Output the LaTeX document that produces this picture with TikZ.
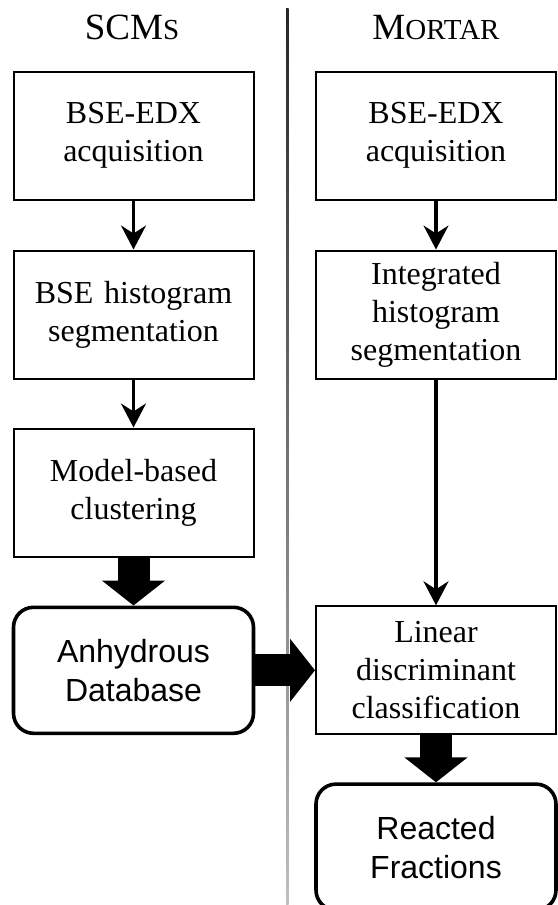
\documentclass[tikz,border=0pt]{standalone}
\usepackage{fontspec}
\setmainfont{Liberation Serif}
\newfontfamily\arialfont{Liberation Sans}
\usetikzlibrary{arrows.meta,positioning}
\tikzset{
  stepbox/.style={draw,line width=1pt,minimum width=120pt,minimum height=64pt,text width=118pt,align=center,inner sep=0pt,font=\fontsize{16}{19}\selectfont},
  endbox/.style={draw,line width=1.8pt,rounded corners=10pt,minimum width=120pt,minimum height=63pt,text width=118pt,align=center,inner sep=0pt,font=\arialfont\fontsize{16}{19.5}\selectfont},
  thinarrow/.style={line width=1.6pt,-{Stealth[length=12pt,width=12.5pt,inset=4pt]}},
  fatarrow/.style={line width=16pt,-{Triangle[length=12.5pt,width=31pt]}},
  colhead/.style={font=\fontsize{18.5}{22}\selectfont,anchor=base}
}

\begin{document}
\begin{tikzpicture}[x=0.5pt,y=-0.5pt]
\useasboundingbox (0,0) rectangle (557,905);
% divider between the two columns
\shade[top color=black!85,bottom color=black!25] (286,8) rectangle (288.5,905);

\node[colhead] (scmhead) at (132,39) {SCM{\fontsize{14.5}{17}\selectfont S}};
\node[colhead] (morhead) at (436,39) {M{\fontsize{14.5}{17}\selectfont ORTAR}};

% SCMs column
\node[stepbox] (scmacq) at (133.5,135.5) {BSE-EDX\\acquisition};
\node[stepbox,below=24.5pt of scmacq] (scmseg) {BSE histogram\\segmentation};
\node[stepbox,below=24pt of scmseg] (scmclu) {Model-based\\clustering};
\node[endbox,below=24pt of scmclu] (anhdb) {Anhydrous\\Database};

% Mortar column
\node[stepbox] (moracq) at (436,135.5) {BSE-EDX\\acquisition};
\node[stepbox,below=24.5pt of moracq] (morseg) {Integrated\\histogram\\segmentation};
\node[stepbox] (morlda) at (moracq |- anhdb) {Linear\\discriminant\\classification};
\node[endbox,below=23.5pt of morlda] (reacted) {Reacted\\Fractions};

\draw[thinarrow] (scmacq) -- (scmseg);
\draw[thinarrow] (scmseg) -- (scmclu);
\draw[fatarrow] (scmclu) -- (anhdb);
\draw[thinarrow] (moracq) -- (morseg);
\draw[thinarrow] (morseg) -- (morlda);
\draw[fatarrow] (anhdb) -- (morlda);
\draw[fatarrow] (morlda) -- (reacted);
\end{tikzpicture}
\end{document}
